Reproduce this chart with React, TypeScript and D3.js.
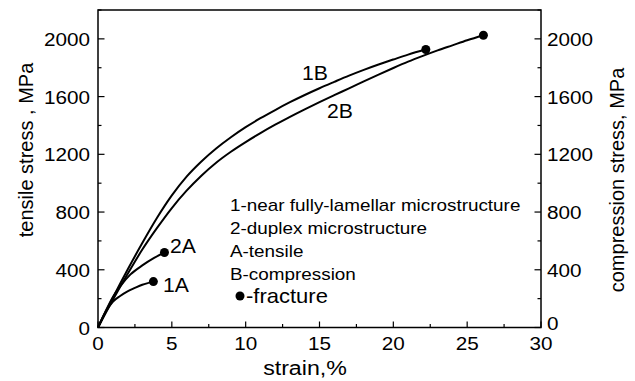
import * as d3 from "d3";

// tensile curves (strain %, stress MPa)
const strain1A = [0, 0.5, 1.0, 1.5, 2.0, 2.5, 3.0, 3.75];
const stress1A = [0, 105, 178, 218, 250, 274, 296, 318];
const strain2A = [0, 0.5, 1.0, 1.5, 2.2, 3.0, 3.8, 4.5];
const stress2A = [0, 110, 210, 285, 368, 430, 482, 520];
// compression curves
const strain1B = [0, 1, 2, 3, 4, 5, 6, 7, 8, 9, 10, 11, 12, 13, 14, 15, 16, 17, 18, 19, 20, 21, 22.2];
const stress1B = [0, 205, 400, 585, 760, 915, 1045, 1150, 1240, 1318, 1388, 1450, 1507, 1561, 1611, 1658, 1702, 1745, 1785, 1822, 1857, 1891, 1926];
const strain2B = [0, 1, 2, 3, 4, 5, 6, 7, 8, 9, 10, 11, 12, 13, 14, 15, 16, 17, 18, 19, 20, 21, 22, 23, 24, 25, 26.1];
const stress2B = [0, 190, 370, 540, 690, 828, 948, 1052, 1142, 1218, 1285, 1347, 1405, 1460, 1512, 1562, 1610, 1657, 1705, 1752, 1798, 1842, 1882, 1920, 1955, 1990, 2025];

const xTicks = [0, 5, 10, 15, 20, 25, 30];
const yTicks = [0, 400, 800, 1200, 1600, 2000];
const legendLines = [
  "1-near fully-lamellar microstructure",
  "2-duplex microstructure",
  "A-tensile",
  "B-compression",
];

const W = 635;
const H = 381;
const left = 98;
const right = 541;
const top = 10;
const bottom = 327.5;
const font = "'Liberation Sans', Arial, Helvetica, sans-serif";

// text drawn with a slight horizontal stretch, like the original figure
function T({ x, y, s = 1.09, size, anchor = "start", children }: any) {
  return (
    <text transform={`translate(${x},${y}) scale(${s},1)`} textAnchor={anchor} fontSize={size}>
      {children}
    </text>
  );
}

export default function App() {
  const x = d3.scaleLinear().domain([0, 30]).range([left, right]);
  const y = d3.scaleLinear().domain([0, 2200]).range([bottom, top]);

  const line = d3
    .line<[number, number]>()
    .x((d) => x(d[0]))
    .y((d) => y(d[1]))
    .curve(d3.curveMonotoneX);

  const series = [
    { xs: strain1A, ys: stress1A },
    { xs: strain2A, ys: stress2A },
    { xs: strain1B, ys: stress1B },
    { xs: strain2B, ys: stress2B },
  ];

  const xMinor = d3.range(0, 30.01, 2.5);
  const yMinor = d3.range(0, 2200.01, 200);

  return (
    <svg
      width={W}
      height={H}
      style={{ position: "absolute", left: 0, top: 0, background: "#fff" }}
      fontFamily={font}
    >
      {/* frame */}
      <rect x={left} y={top} width={right - left} height={bottom - top} fill="none" stroke="#000" strokeWidth={1.5} />

      {/* x ticks */}
      {xMinor.map((v) => {
        const major = v % 5 === 0;
        return <line key={"xm" + v} x1={x(v)} x2={x(v)} y1={bottom} y2={bottom - (major ? 6 : 3.5)} stroke="#000" strokeWidth={1.2} />;
      })}
      {xTicks.map((v) => (
        <T key={"xt" + v} x={x(v)} y={350} size={19} anchor="middle">
          {v}
        </T>
      ))}

      {/* y ticks both sides */}
      {yMinor.map((v) => {
        const major = v % 400 === 0;
        const len = major ? 6.5 : 3.5;
        return (
          <g key={"ym" + v}>
            <line x1={left} x2={left + len} y1={y(v)} y2={y(v)} stroke="#000" strokeWidth={1.2} />
            <line x1={right} x2={right - len} y1={y(v)} y2={y(v)} stroke="#000" strokeWidth={1.2} />
          </g>
        );
      })}
      {yTicks.map((v) => (
        <g key={"yt" + v}>
          <T x={90} y={y(v) + 7} size={19} anchor="end">
            {v}
          </T>
          <T x={547} y={y(v) + (v === 0 ? 2 : 7)} size={19}>
            {v}
          </T>
        </g>
      ))}

      {/* axis titles */}
      <T x={305} y={375} s={1.16} size={20} anchor="middle">
        strain,%
      </T>
      <text transform={`translate(33,150) rotate(-90)`} textAnchor="middle" fontSize={20}>
        tensile stress , MPa
      </text>
      <text transform={`translate(624,180) rotate(-90)`} textAnchor="middle" fontSize={20}>
        compression stress, MPa
      </text>

      {/* curves */}
      {series.map((s, i) => (
        <g key={"s" + i}>
          <path
            d={line(s.xs.map((v, j) => [v, s.ys[j]] as [number, number])) ?? ""}
            fill="none"
            stroke="#000"
            strokeWidth={2}
          />
          <circle cx={x(s.xs[s.xs.length - 1])} cy={y(s.ys[s.ys.length - 1])} r={4.5} fill="#000" />
        </g>
      ))}

      {/* curve labels */}
      <T x={170} y={253} s={1.06} size={20}>2A</T>
      <T x={163} y={292} s={1.06} size={20}>1A</T>
      <T x={302} y={80} s={1.06} size={20}>1B</T>
      <T x={327} y={118} s={1.06} size={20}>2B</T>

      {/* legend */}
      {legendLines.map((t, i) => (
        <T key={t} x={230} y={210.7 + i * 23.1} s={1.18} size={16}>
          {t}
        </T>
      ))}
      <circle cx={240} cy={296} r={4.5} fill="#000" />
      <T x={246} y={303} s={1.1} size={20}>
        -fracture
      </T>
    </svg>
  );
}
